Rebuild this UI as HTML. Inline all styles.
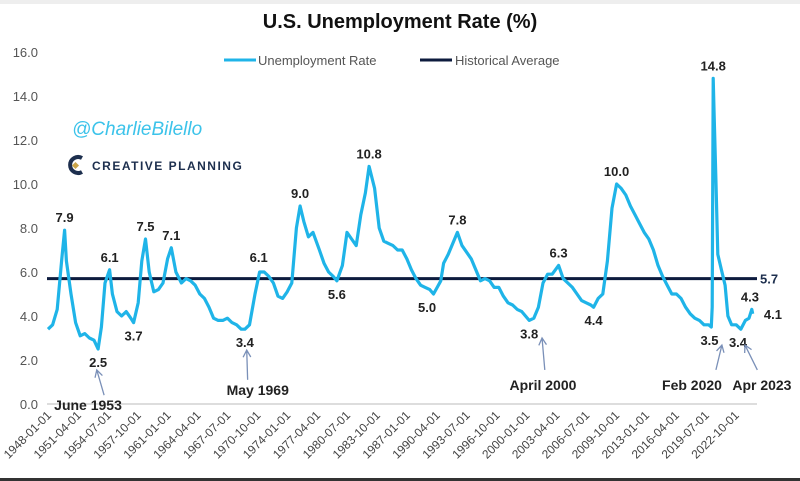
<!DOCTYPE html>
<html><head><meta charset="utf-8"><style>
body{margin:0;background:#fff;}
svg{display:block;font-family:"Liberation Sans",sans-serif;}
</style></head><body>
<svg width="800" height="481" viewBox="0 0 800 481" id="chart">
<rect x="0" y="0" width="800" height="4" fill="#eee"/>
<rect x="0" y="478" width="800" height="3" fill="#333"/>
<text x="400" y="28" text-anchor="middle" font-size="20" font-weight="bold" fill="#111">U.S. Unemployment Rate (%)</text>
<g>
<line x1="224" y1="60" x2="256" y2="60" stroke="#1fb4e8" stroke-width="3"/>
<text x="258" y="65" font-size="13" fill="#555">Unemployment Rate</text>
<line x1="420" y1="60" x2="452" y2="60" stroke="#0d1b3e" stroke-width="3"/>
<text x="455" y="65" font-size="13" fill="#555">Historical Average</text>
</g>
<text x="72" y="135" font-size="19" font-style="italic" fill="#3cc3ea">@CharlieBilello</text>
<g>
<path d="M82 158 A8 8 0 1 0 82 172" fill="none" stroke="#1d2f4e" stroke-width="4"/>
<rect x="73" y="163" width="5" height="5" fill="#c9a44a" transform="rotate(45 75.5 165.5)"/>
<text x="92" y="170" font-size="12" font-weight="bold" fill="#1d2f4e" letter-spacing="1.5">CREATIVE PLANNING</text>
</g>
<g id="axes"></g>
<g id="series"></g>
<g id="annots"></g>
</svg>
<script>
const years=[1948.0,1948.5,1949.0,1949.5,1949.8,1950.0,1950.5,1951.0,1951.5,1952.0,1952.5,1953.0,1953.45,1953.8,1954.2,1954.7,1955.0,1955.5,1956.0,1956.5,1957.0,1957.3,1957.8,1958.2,1958.6,1959.0,1959.5,1960.0,1960.5,1961.0,1961.4,1961.9,1962.5,1963.0,1963.5,1964.0,1964.5,1965.0,1965.5,1966.0,1966.5,1967.0,1967.5,1968.0,1968.5,1969.0,1969.4,1969.9,1970.5,1971.0,1971.5,1972.0,1972.5,1973.0,1973.5,1974.0,1974.5,1975.0,1975.4,1975.8,1976.3,1976.8,1977.5,1978.0,1978.5,1979.0,1979.4,1980.0,1980.5,1981.0,1981.5,1982.0,1982.5,1982.9,1983.5,1984.0,1984.5,1985.0,1985.5,1986.0,1986.5,1987.0,1987.5,1988.0,1988.5,1989.0,1989.5,1989.9,1990.3,1990.7,1991.0,1991.5,1992.0,1992.5,1993.0,1993.5,1994.0,1994.5,1995.0,1995.5,1996.0,1996.5,1997.0,1997.5,1998.0,1998.5,1999.0,1999.5,2000.3,2000.8,2001.3,2001.8,2002.3,2002.8,2003.5,2004.0,2004.5,2005.0,2005.5,2006.0,2006.5,2007.0,2007.3,2007.8,2008.3,2008.8,2009.3,2009.8,2010.3,2010.8,2011.3,2011.8,2012.3,2012.8,2013.3,2013.8,2014.3,2014.8,2015.3,2015.8,2016.3,2016.8,2017.3,2017.8,2018.3,2018.8,2019.3,2019.8,2020.1,2020.2,2020.3,2020.4,2020.6,2020.8,2021.2,2021.6,2021.9,2022.3,2022.8,2023.3,2023.8,2024.2,2024.5,2024.6];
const rates=[3.4,3.6,4.3,6.6,7.9,6.5,5.0,3.7,3.1,3.2,3.0,2.9,2.5,3.5,5.5,6.1,5.0,4.2,4.0,4.2,3.9,3.7,4.6,6.5,7.5,6.0,5.1,5.2,5.5,6.6,7.1,6.0,5.5,5.7,5.6,5.4,5.0,4.8,4.4,3.9,3.8,3.8,3.9,3.7,3.6,3.4,3.4,3.6,5.0,6.0,6.0,5.8,5.5,4.9,4.8,5.1,5.5,8.0,9.0,8.3,7.6,7.8,7.0,6.4,6.0,5.8,5.6,6.3,7.8,7.5,7.2,8.6,9.6,10.8,9.8,8.0,7.4,7.3,7.2,7.0,7.0,6.6,6.1,5.7,5.4,5.3,5.2,5.0,5.3,5.6,6.4,6.8,7.3,7.8,7.2,6.9,6.6,6.1,5.6,5.7,5.6,5.3,5.3,4.9,4.6,4.5,4.3,4.2,3.8,3.9,4.4,5.5,5.9,5.9,6.3,5.7,5.5,5.3,5.0,4.7,4.6,4.5,4.4,4.8,5.0,6.5,8.9,10.0,9.8,9.5,9.0,8.6,8.2,7.8,7.5,7.0,6.3,5.8,5.4,5.0,5.0,4.8,4.4,4.1,3.9,3.8,3.6,3.6,3.5,4.4,14.8,13.2,10.2,6.8,6.1,5.4,4.0,3.6,3.6,3.4,3.8,3.9,4.3,4.1];
const historicalAverage=5.7;
const yTicks=[0,2,4,6,8,10,12,14,16];
const xTickLabels=["1948-01-01","1951-04-01","1954-07-01","1957-10-01","1961-01-01","1964-04-01","1967-07-01","1970-10-01","1974-01-01","1977-04-01","1980-07-01","1983-10-01","1987-01-01","1990-04-01","1993-07-01","1996-10-01","2000-01-01","2003-04-01","2006-07-01","2009-10-01","2013-01-01","2016-04-01","2019-07-01","2022-10-01"];
const peakLabels=["7.9","2.5","6.1","3.7","7.5","7.1","3.4","6.1","9.0","5.6","10.8","5.0","7.8","3.8","6.3","4.4","10.0","3.5","14.8","3.4","4.3","4.1"];
const peakYears=[1949.8,1953.45,1954.7,1957.3,1958.6,1961.4,1969.4,1970.9,1975.4,1979.4,1982.9,1989.2,1992.5,2000.3,2003.5,2007.3,2009.8,2019.9,2020.3,2023.0,2024.3,2026.8];
const peakValues=[7.9,2.5,6.1,3.7,7.5,7.1,3.4,6.1,9.0,5.6,10.8,5.0,7.8,3.8,6.3,4.4,10.0,3.5,14.8,3.4,4.3,4.1];
const peakAbove=[1,0,1,0,1,1,0,1,1,0,1,0,1,0,1,0,1,0,1,0,1,2];
const callouts=["June 1953","May 1969","April 2000","Feb 2020","Apr 2023"];
const calloutLabelYears=[1952.35,1970.8,2001.8,2018.0,2025.6];
const calloutLabelVals=[-0.27,0.4,0.64,0.64,0.64];
const arrowTipYears=[1953.3,1969.6,2001.7,2021.25,2023.76];
const arrowTipVals=[1.55,2.45,3.0,2.68,2.68];
const arrowTailYears=[1954.1,1969.7,2002.0,2020.6,2025.1];
const arrowTailVals=[0.4,1.1,1.55,1.55,1.55];
const NS="http://www.w3.org/2000/svg";
const X=y=>48+(y-1948)*9.2;
const Y=v=>404-v*22;
function mk(tag,attrs,parent,txt){const e=document.createElementNS(NS,tag);for(const k in attrs)e.setAttribute(k,attrs[k]);if(txt!==undefined)e.textContent=txt;parent.appendChild(e);return e;}
const axes=document.getElementById('axes'),series=document.getElementById('series'),ann=document.getElementById('annots');
const base=mk('line',{x1:47,x2:757,y1:Y(0),y2:Y(0),stroke:'#ddd','stroke-width':2},axes);


yTicks.forEach(t=>{const e=mk('text',{x:38,y:Y(t)+5,'text-anchor':'end','font-size':13,fill:'#555'},axes,t.toFixed(1));

});
xTickLabels.forEach((l,i)=>{const x=X(1948+i*3.25);const e=mk('text',{x:0,y:0,'text-anchor':'end','font-size':12,fill:'#444',transform:`translate(${x+4},${Y(0)+12}) rotate(-45)`},axes,l);

});
const avg=mk('line',{x1:47,x2:757,y1:Y(historicalAverage),y2:Y(historicalAverage),stroke:'#0d1b3e','stroke-width':3},series);


const avgL=mk('text',{x:760,y:Y(historicalAverage)+5,'font-size':13,'font-weight':'bold',fill:'#1d2f4e'},series,historicalAverage.toFixed(1));


const d=years.map((y,i)=>(i?'L':'M')+X(y).toFixed(1)+' '+Y(rates[i]).toFixed(1)).join(' ');
const p=mk('path',{d:d,fill:'none',stroke:'#1fb4e8','stroke-width':3.2,'stroke-linejoin':'round'},series);


peakLabels.forEach((l,i)=>{const x=X(peakYears[i]);const y=peakAbove[i]==1?Y(peakValues[i])-8:(peakAbove[i]==2?Y(peakValues[i])+5:Y(peakValues[i])+18);
const e=mk('text',{x:x,y:y,'text-anchor':'middle','font-size':13,'font-weight':'bold',fill:'#222'},ann,l);

});
callouts.forEach((c,i)=>{
const tx=X(arrowTipYears[i]),ty=Y(arrowTipVals[i]),bx=X(arrowTailYears[i]),by=Y(arrowTailVals[i]);
const ang=Math.atan2(by-ty,bx-tx);
const h1x=tx+8*Math.cos(ang+0.5),h1y=ty+8*Math.sin(ang+0.5),h2x=tx+8*Math.cos(ang-0.5),h2y=ty+8*Math.sin(ang-0.5);
const a=mk('path',{d:`M${bx} ${by} L${tx} ${ty} M${h1x} ${h1y} L${tx} ${ty} L${h2x} ${h2y}`,fill:'none',stroke:'#7a90b8','stroke-width':1.3},ann);


const t=mk('text',{x:X(calloutLabelYears[i]),y:Y(calloutLabelVals[i]),'text-anchor':'middle','font-size':14,'font-weight':'bold',fill:'#222'},ann,c);

});
</script>
</body></html>
